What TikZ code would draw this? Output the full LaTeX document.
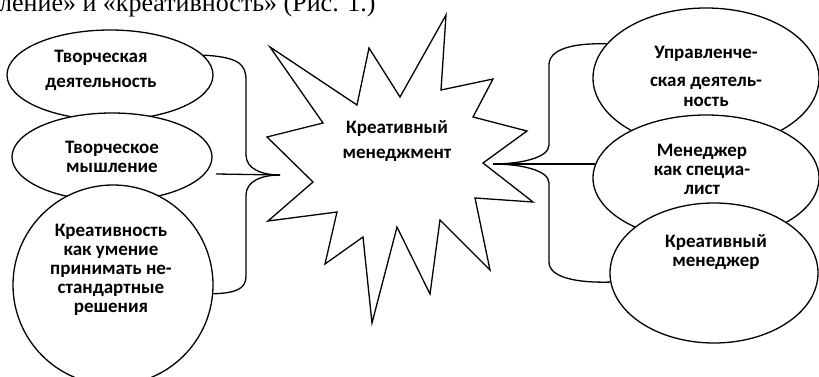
\documentclass[tikz,border=0pt]{standalone}
\usepackage{fontspec}
\setmainfont{Carlito}
\newfontfamily\serifru{Liberation Serif}
\usetikzlibrary{shapes.geometric}
\begin{document}
\begin{tikzpicture}[x=1pt,y=-1pt,
  shp/.style={draw,line width=1.3pt,fill=white,ellipse,inner sep=0pt},
  rnd/.style={draw,line width=1.3pt,fill=white,circle,inner sep=0pt},
  lbl/.style={font=\bfseries\fontsize{19}{19}\selectfont,align=center,inner sep=0pt},
  conn/.style={line width=1.3pt,line join=round}]
\useasboundingbox (0,0) rectangle (819,377);
\clip (0,0) rectangle (819,377);
\node[anchor=base west,inner sep=0pt,font=\serifru\fontsize{26}{30}\selectfont] (cap) at (-1,12) {ление» и «креативность» (Рис. 1.)};
% left shapes
\node[shp,minimum width=206pt,minimum height=90pt] (e1) at (110,75) {};
\node[shp,minimum width=200pt,minimum height=88pt] (e2) at (112,157) {};
\node[rnd,minimum size=200pt] (e3) at (113,285) {};
% right shapes
\node[shp,minimum width=226pt,minimum height=140pt] (r1) at (706,78) {};
\node[shp,minimum width=226pt,minimum height=126pt] (r2) at (706,178) {};
\node[shp,minimum width=208pt,minimum height=140pt] (r3) at (714,273) {};
% star
\draw[line width=1.3pt,line join=miter,fill=white]
  (270,47) -- (357,105) -- (369,48) -- (400,97) -- (446,15) -- (441,90)
  -- (493,79) -- (473,117) -- (527,131) -- (483,163) -- (533,202)
  -- (475,198) -- (490,270) -- (440,220) -- (430,294) -- (397,227)
  -- (372,323) -- (363,237) -- (325,264) -- (337,212) -- (268,221)
  -- (313,182) -- (267,137) -- (323,123) -- cycle;
% connector points
\coordinate (ltip) at (280,175);
\coordinate (rtip) at (493,164);
\coordinate (l2) at (216,174);
% left brace
\draw[conn] (e1.12) .. controls (238,57) and (246,64) .. (246,80) -- (246,155)
  .. controls (246,169) and (262,175) .. (ltip);
\draw[conn] (ltip) .. controls (262,175) and (246,181) .. (246,195) -- (246,276)
  .. controls (246,289) and (236,293) .. (e3.-5);
\draw[conn] (l2) -- (ltip);
% right brace
\draw[conn] (r1.161) .. controls (570,43) and (549,50) .. (549,65) -- (549,145)
  .. controls (549,158) and (520,164) .. (rtip);
\draw[conn] (rtip) .. controls (520,164) and (549,170) .. (549,183) -- (549,262)
  .. controls (549,277) and (575,283) .. (r3.185);
\draw[conn] (rtip) -- (r2.173 |- rtip);
% labels
\node[lbl] (t1) at (101,70) {Творческая\\[6pt]деятельность};
\node[lbl] (t2) at (112,157) {Творческое\\мышление};
\node[lbl] (t3) at (111,270) {Креативность\\как умение\\принимать не-\\стандартные\\решения};
\node[lbl] (ts) at (397,141) {Креативный\\[6pt]менеджмент};
\node[lbl] (tr1) at (706,76) {Управленче-\\[9pt]ская деятель-\\[1pt]ность};
\node[lbl] (tr2) at (702,169) {Менеджер\\как специа-\\лист};
\node[lbl] (tr3) at (716,252) {Креативный\\менеджер};
\end{tikzpicture}
\end{document}
